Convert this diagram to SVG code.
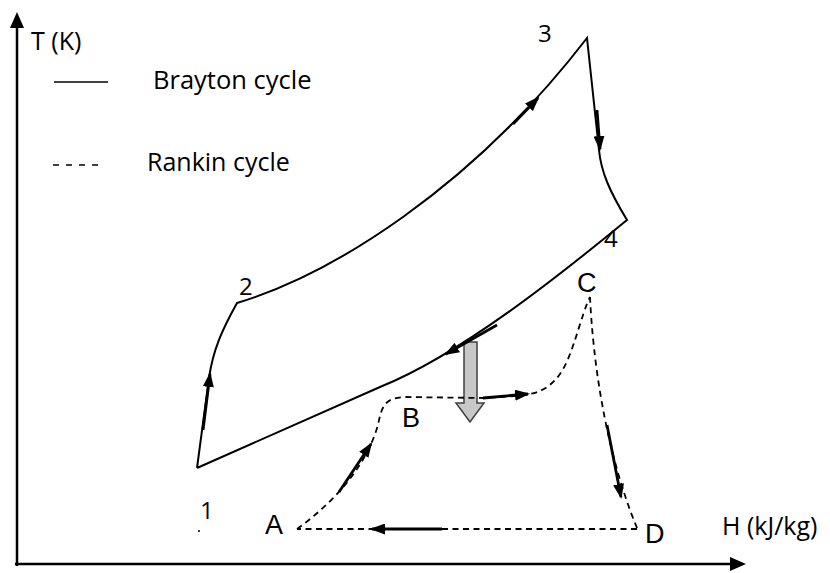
<svg xmlns="http://www.w3.org/2000/svg" width="830" height="573" viewBox="0 0 830 573">
<style>
.lbl{font-family:"Open Sans","Liberation Sans",sans-serif;fill:#000;}
.pt{font-family:"Liberation Sans",Arial,sans-serif;fill:#000;}
.solid{fill:none;stroke:#000;stroke-width:2;}
.dash{fill:none;stroke:#000;stroke-width:1.8;stroke-dasharray:6 4.5;}
.thick{fill:none;stroke:#000;stroke-width:2.8;marker-end:url(#ah);}
.axis{fill:none;stroke:#000;stroke-width:2.5;}
</style>
<defs>
<marker id="ah" markerUnits="userSpaceOnUse" markerWidth="15" markerHeight="11" refX="13" refY="5.5" orient="auto">
<path d="M0,0 L15,5.5 L0,11 z" fill="#000"/>
</marker>
<marker id="axh" markerUnits="userSpaceOnUse" markerWidth="16" markerHeight="14" refX="2" refY="7" orient="auto">
<path d="M0,0 L16,7 L0,14 z" fill="#000"/>
</marker>
</defs>
<g id="axes">
<path class="axis" d="M17,566 L17,26" marker-end="url(#axh)"/>
<path class="axis" d="M15,564 L732,564" marker-end="url(#axh)"/>
</g>
<g id="legend">
<line x1="54" y1="82" x2="108" y2="82" stroke="#000" stroke-width="1.5"/>
<line x1="53" y1="165" x2="101" y2="165" stroke="#000" stroke-width="1.5" stroke-dasharray="6 7"/>
<text class="lbl" x="153" y="89" font-size="25.5">Brayton cycle</text>
<text class="lbl" x="147" y="171" font-size="25">Rankin cycle</text>
<text class="lbl" x="31" y="50" font-size="25">T (K)</text>
<text class="lbl" x="722" y="535" font-size="25">H (kJ/kg)</text>
</g>
<g id="heat-arrow">
<polygon points="464,342 477,342 477,403 484,403 470,422 456,403 464,403" fill="#c8c8c8" stroke="#404040" stroke-width="1.5"/>
</g>
<g id="connectors">
<path id="brayton" class="solid" d="M197,468 L209,378 C213,350 222,330 237,303 C330,275 470,190 587,38 L599,150 C601,172 610,192 627,220 C560,275 460,355 380,387 L197,468"/>
<path class="thick" d="M203,430 L210,374"/>
<path class="thick" d="M513,124 L538,98"/>
<path class="thick" d="M597,110 L600,149"/>
<path class="thick" d="M497,325 L446,354"/>
<path id="rankine-ab-c" class="dash" d="M297,529 C330,505 365,470 378,425 C382,405 385,398 405,397 L483,398 C500,397 520,396 530,394 C560,388 568,360 575,340 C582,318 586,305 590,297"/>
<path id="rankine-cd" class="dash" d="M590,297 C593,360 605,450 637,528"/>
<path id="rankine-da" class="dash" d="M637,529 L297,529"/>
<path class="thick" d="M339,492 L371,444"/>
<path class="thick" d="M483,398 L528,394"/>
<path class="thick" d="M607,425 L621,497"/>
<path class="thick" d="M442,529 L372,529"/>
<circle cx="199" cy="531" r="1" fill="#000"/>
</g>
<g id="n1"><text class="lbl" x="200" y="519" font-size="24">1</text></g>
<g id="n2"><text class="lbl" x="239" y="295" font-size="24">2</text></g>
<g id="n3"><text class="lbl" x="538" y="42" font-size="24">3</text></g>
<g id="n4"><text class="lbl" x="604" y="247" font-size="24">4</text></g>
<g id="nA"><text class="pt" x="265" y="534" font-size="27">A</text></g>
<g id="nB"><text class="pt" x="402" y="427" font-size="27">B</text></g>
<g id="nC"><text class="pt" x="577" y="292" font-size="27">C</text></g>
<g id="nD"><text class="pt" x="645" y="543" font-size="27">D</text></g>
</svg>
